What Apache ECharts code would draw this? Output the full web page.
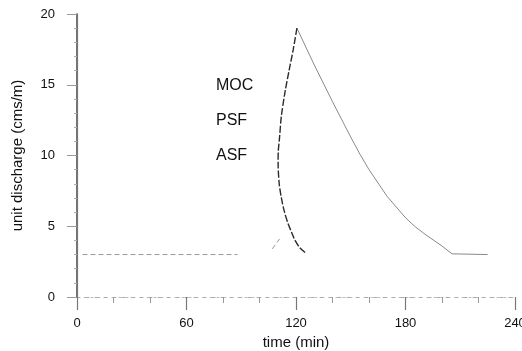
<!DOCTYPE html>
<html>
<head>
<meta charset="utf-8">
<script src="https://cdn.jsdelivr.net/npm/echarts@6/dist/echarts.min.js"></script>
<style>
html,body{margin:0;padding:0;background:#fff;}
#c{width:522px;height:351px;}
</style>
</head>
<body>
<div id="c"></div>
<script>
// tick values
const xTicks = [0, 60, 120, 180, 240];
const yTicks = [0, 5, 10, 15, 20];
const seriesNames = ['MOC', 'PSF', 'ASF'];

// MOC: rising limb + recession (gray)
const mocTime = [120.5, 130, 140, 150, 155, 160, 170, 180, 185, 190, 200, 205.5, 225];
const mocQ    = [19.0, 16.4, 13.8, 11.3, 10.1, 9.0, 7.1, 5.6, 5.0, 4.5, 3.6, 3.05, 3.0];

// PSF: backward-bending curve (dark)
const psfTime = [120.5, 118.5, 116.2, 114, 112, 111, 110.3, 110.2, 110.8, 112, 113.5, 115.6, 117.5, 119.5, 122, 125];
const psfQ    = [19.0, 17.5, 16.0, 14.5, 12.8, 11.3, 10.3, 9.5, 8.0, 7.0, 6.1, 5.2, 4.6, 4.0, 3.5, 3.15];

// ASF: base flow and start of rise (faint)
const asfTime = [3, 88, 98, 107, 111];
const asfQ    = [3.0, 3.0, '-', 3.4, 4.1];

function pairs(t, q) { return t.map((v, i) => [v, q[i]]); }

const font = '"Liberation Sans", Arial, sans-serif';
const chart = echarts.init(document.getElementById('c'));
chart.setOption({
  animation: false,
  backgroundColor: '#fff',
  grid: { left: 77, right: 7, top: 14, bottom: 54, outerBoundsMode: 'none', containLabel: false },
  legend: {
    data: seriesNames,
    orient: 'vertical',
    left: 206,
    top: 73,
    icon: 'none',
    itemWidth: 0,
    itemHeight: 14,
    itemGap: 19,
    textStyle: { fontFamily: font, fontSize: 16, color: '#111', lineHeight: 16 }
  },
  xAxis: [{
    type: 'value', min: 0, max: 240, interval: 60,
    name: 'time (min)', nameLocation: 'middle', nameGap: 35,
    nameTextStyle: { fontFamily: font, fontSize: 15, color: '#111' },
    axisLine: { show: true, lineStyle: { color: '#bbb', width: 1, type: [2, 5] } },
    axisTick: { show: true, inside: false, length: 13, lineStyle: { color: '#777', width: 1.2 } },
    minorTick: { show: true, splitNumber: 3, length: 6, lineStyle: { color: '#999' } },
    axisLabel: { margin: 20, fontFamily: font, fontSize: 13, color: '#111',
      formatter: v => xTicks.includes(v) ? String(v) : '' },
    splitLine: { show: false }
  }, {
    type: 'value', min: 0, max: 240, position: 'top',
    axisLine: { show: true, lineStyle: { color: '#aaa', width: 1, type: [3, 6] } },
    axisTick: { show: false }, axisLabel: { show: false }, splitLine: { show: false }
  }],
  yAxis: [{
    type: 'value', min: 0, max: 20, interval: 5,
    name: 'unit discharge (cms/m)', nameLocation: 'middle', nameGap: 52,
    nameTextStyle: { fontFamily: font, fontSize: 15, color: '#111' },
    axisLine: { show: true, lineStyle: { color: '#444', width: 1.5 } },
    axisTick: { show: true, inside: false, length: 10, lineStyle: { color: '#999' } },
    minorTick: { show: true, splitNumber: 5, length: 3, lineStyle: { color: '#aaa' } },
    axisLabel: { margin: 22, fontFamily: font, fontSize: 13, color: '#111',
      formatter: v => yTicks.includes(v) ? String(v) : '' },
    splitLine: { show: false }
  }, {
    type: 'value', min: 0, max: 20, position: 'right',
    axisLine: { show: true, lineStyle: { color: '#777', width: 1.2 } },
    axisTick: { show: false }, axisLabel: { show: false }, splitLine: { show: false }
  }],
  series: [{
    name: 'MOC', type: 'line', data: pairs(mocTime, mocQ),
    showSymbol: false, symbol: 'none', smooth: false,
    lineStyle: { color: '#8a8a8a', width: 1 }, itemStyle: { color: '#8a8a8a' }
  }, {
    name: 'PSF', type: 'line', data: pairs(psfTime, psfQ),
    showSymbol: false, symbol: 'none', smooth: 0.3,
    lineStyle: { color: '#2a2a2a', width: 1.4, type: [7, 2] }, itemStyle: { color: '#2a2a2a' }
  }, {
    name: 'ASF', type: 'line', data: pairs(asfTime, asfQ),
    showSymbol: false, symbol: 'none', connectNulls: false,
    lineStyle: { color: '#999', width: 1, type: [5, 3] }, itemStyle: { color: '#999' }
  }]
});
</script>
</body>
</html>
